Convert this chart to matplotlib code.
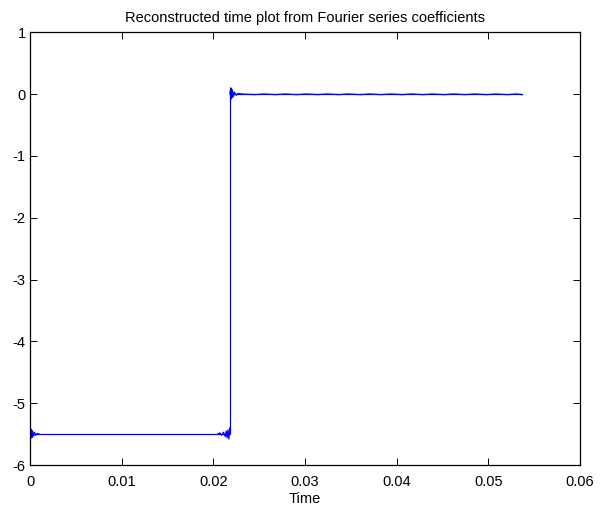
import matplotlib
matplotlib.use("Agg")
import matplotlib.pyplot as plt

# step levels
step_t = [0.0, 0.0218, 0.0218, 0.0537]
step_v = [-5.5, -5.5, 0.0, 0.0]

# Gibbs ringing near the edges (estimated)
ring_lo_start_t = [0.0, 0.00005, 0.0001, 0.00015, 0.0002, 0.00025, 0.0003, 0.0004, 0.0005, 0.0006, 0.0008, 0.001]
ring_lo_start_v = [-5.4, -5.58, -5.42, -5.56, -5.44, -5.55, -5.46, -5.53, -5.47, -5.52, -5.49, -5.5]
ring_lo_end_t = [0.0205, 0.0207, 0.0209, 0.0211, 0.0213, 0.0214, 0.0215, 0.0216, 0.0217, 0.0218]
ring_lo_end_v = [-5.5, -5.48, -5.52, -5.47, -5.54, -5.45, -5.56, -5.43, -5.58, -5.4]
ring_hi_t = [0.0218, 0.0219, 0.02195, 0.0220, 0.02205, 0.0221, 0.0222, 0.0223, 0.0225, 0.0227, 0.023]
ring_hi_v = [0.0, 0.1, -0.08, 0.08, -0.06, 0.05, -0.04, 0.03, -0.02, 0.01, 0.0]

# faint ripple on the upper plateau (looks dashed)
ripple_t = [0.023, 0.0245, 0.0255, 0.0268, 0.0278, 0.0291, 0.0301, 0.0314, 0.0324, 0.0337, 0.0347,
            0.036, 0.037, 0.0383, 0.0393, 0.0406, 0.0416, 0.0429, 0.0439, 0.0452, 0.0462, 0.0475,
            0.0485, 0.0498, 0.0508, 0.0521, 0.0531, 0.0537]
ripple_v = [0.0, -0.01, 0.0, -0.01, 0.0, -0.01, 0.0, -0.01, 0.0, -0.01, 0.0,
            -0.01, 0.0, -0.01, 0.0, -0.01, 0.0, -0.01, 0.0, -0.01, 0.0, -0.01,
            0.0, -0.01, 0.0, -0.01, 0.0, -0.01]

plt.rcParams["font.family"] = ["Liberation Sans", "DejaVu Sans"]
fig = plt.figure(figsize=(6.13, 5.11), dpi=100)
ax = fig.add_axes([0.049, 0.090, 0.897, 0.847])

blue = (0, 0, 1)
ax.plot(step_t, step_v, color=blue, lw=0.9)
ax.plot(ring_lo_start_t, ring_lo_start_v, color=blue, lw=0.9)
ax.plot(ring_lo_end_t, ring_lo_end_v, color=blue, lw=0.9)
ax.plot(ring_hi_t, ring_hi_v, color=blue, lw=0.9)
ax.plot(ripple_t, ripple_v, color=blue, lw=0.9)

ax.set_xlim(0, 0.06)
ax.set_ylim(-6, 1)
ax.set_xticks([0, 0.01, 0.02, 0.03, 0.04, 0.05, 0.06])
ax.set_xticklabels(["0", "0.01", "0.02", "0.03", "0.04", "0.05", "0.06"])
ax.set_yticks(range(-6, 2))
ax.set_yticklabels([str(v) for v in range(-6, 2)])
ax.tick_params(direction="in", top=True, right=True, labelsize=10.5, length=5, width=0.7, pad=3)
ax.tick_params(axis="x", pad=7)
for s in ax.spines.values():
    s.set_linewidth(0.9)
ax.set_xlabel("Time", fontsize=10.5, labelpad=2)
ax.set_title("Reconstructed time plot from Fourier series coefficients", fontsize=10.5, pad=7)

fig.savefig("out.png", dpi=100)
